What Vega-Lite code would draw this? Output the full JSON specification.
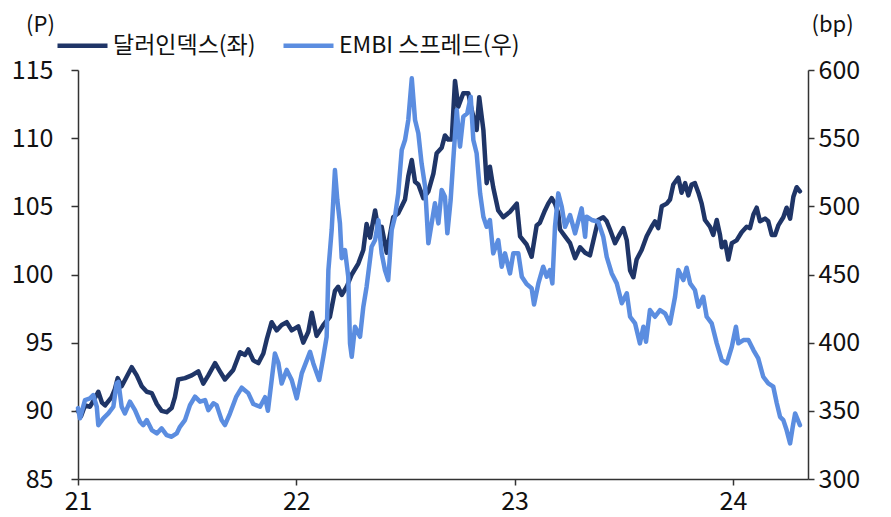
{
"$schema": "https://vega.github.io/schema/vega-lite/v6.json",
"width": 730, "height": 409,
"autosize": "none",
"padding": {"left": 78, "top": 70, "right": 83, "bottom": 38},
"background": "white",
"config": {"view": {"stroke": null}, "font": "Noto Sans CJK KR",
  "axis": {"grid": false, "domainColor": "#333", "domainWidth": 1.5, "tickColor": "#333", "tickWidth": 1.5, "labelColor": "#111", "labelFontSize": 25, "labelFont": "Noto Sans CJK KR", "titleFont": "Noto Sans CJK KR", "titleFontSize": 22, "titleFontWeight": "normal", "titleColor": "#111"}},
"datasets": {
"dxy": [{"t":21.000,"v":90.0},{"t":21.014,"v":89.6},{"t":21.032,"v":90.4},{"t":21.055,"v":90.3},{"t":21.073,"v":90.8},{"t":21.093,"v":91.4},{"t":21.110,"v":90.6},{"t":21.124,"v":90.4},{"t":21.154,"v":91.0},{"t":21.169,"v":91.6},{"t":21.182,"v":92.4},{"t":21.200,"v":91.8},{"t":21.223,"v":92.5},{"t":21.246,"v":93.2},{"t":21.269,"v":92.6},{"t":21.292,"v":91.8},{"t":21.315,"v":91.4},{"t":21.338,"v":91.3},{"t":21.361,"v":90.5},{"t":21.383,"v":90.0},{"t":21.406,"v":89.9},{"t":21.429,"v":90.2},{"t":21.444,"v":91.0},{"t":21.459,"v":92.3},{"t":21.490,"v":92.4},{"t":21.521,"v":92.6},{"t":21.551,"v":92.9},{"t":21.574,"v":92.0},{"t":21.597,"v":92.6},{"t":21.628,"v":93.5},{"t":21.650,"v":92.9},{"t":21.673,"v":92.3},{"t":21.711,"v":93.0},{"t":21.742,"v":94.3},{"t":21.765,"v":94.1},{"t":21.780,"v":94.5},{"t":21.803,"v":93.7},{"t":21.826,"v":93.5},{"t":21.849,"v":94.2},{"t":21.864,"v":95.2},{"t":21.887,"v":96.5},{"t":21.910,"v":95.9},{"t":21.933,"v":96.3},{"t":21.956,"v":96.5},{"t":21.979,"v":95.9},{"t":22.009,"v":96.2},{"t":22.032,"v":95.0},{"t":22.055,"v":95.8},{"t":22.071,"v":97.2},{"t":22.093,"v":95.5},{"t":22.124,"v":96.3},{"t":22.154,"v":96.9},{"t":22.177,"v":98.8},{"t":22.192,"v":99.1},{"t":22.208,"v":98.5},{"t":22.231,"v":99.1},{"t":22.254,"v":100.0},{"t":22.284,"v":100.8},{"t":22.307,"v":101.8},{"t":22.322,"v":103.7},{"t":22.338,"v":102.7},{"t":22.361,"v":104.7},{"t":22.376,"v":103.3},{"t":22.391,"v":103.5},{"t":22.414,"v":101.6},{"t":22.444,"v":104.2},{"t":22.467,"v":104.5},{"t":22.483,"v":105.0},{"t":22.498,"v":105.5},{"t":22.513,"v":107.2},{"t":22.529,"v":108.4},{"t":22.544,"v":106.8},{"t":22.559,"v":106.6},{"t":22.582,"v":105.6},{"t":22.605,"v":106.1},{"t":22.628,"v":107.4},{"t":22.643,"v":108.9},{"t":22.666,"v":109.3},{"t":22.681,"v":110.2},{"t":22.696,"v":109.9},{"t":22.712,"v":109.9},{"t":22.727,"v":114.2},{"t":22.742,"v":112.3},{"t":22.765,"v":113.3},{"t":22.788,"v":113.3},{"t":22.803,"v":112.1},{"t":22.826,"v":110.6},{"t":22.838,"v":113.0},{"t":22.857,"v":110.6},{"t":22.872,"v":106.7},{"t":22.887,"v":107.9},{"t":22.902,"v":106.4},{"t":22.925,"v":104.7},{"t":22.948,"v":104.2},{"t":22.979,"v":104.6},{"t":23.010,"v":105.2},{"t":23.025,"v":102.8},{"t":23.055,"v":102.2},{"t":23.078,"v":101.3},{"t":23.101,"v":103.6},{"t":23.116,"v":103.8},{"t":23.139,"v":104.7},{"t":23.154,"v":105.2},{"t":23.170,"v":105.6},{"t":23.185,"v":105.2},{"t":23.200,"v":104.5},{"t":23.208,"v":103.3},{"t":23.231,"v":102.8},{"t":23.254,"v":102.3},{"t":23.277,"v":101.2},{"t":23.300,"v":102.0},{"t":23.323,"v":101.6},{"t":23.345,"v":101.4},{"t":23.361,"v":102.5},{"t":23.383,"v":104.0},{"t":23.406,"v":104.2},{"t":23.422,"v":103.9},{"t":23.437,"v":103.3},{"t":23.460,"v":102.3},{"t":23.483,"v":103.0},{"t":23.498,"v":103.4},{"t":23.514,"v":102.5},{"t":23.529,"v":100.3},{"t":23.544,"v":99.8},{"t":23.559,"v":101.1},{"t":23.582,"v":101.8},{"t":23.605,"v":102.8},{"t":23.628,"v":103.5},{"t":23.643,"v":103.9},{"t":23.658,"v":103.4},{"t":23.674,"v":105.0},{"t":23.697,"v":105.2},{"t":23.712,"v":105.5},{"t":23.727,"v":106.6},{"t":23.750,"v":107.1},{"t":23.765,"v":106.0},{"t":23.781,"v":106.7},{"t":23.796,"v":105.8},{"t":23.811,"v":106.6},{"t":23.826,"v":106.7},{"t":23.842,"v":106.0},{"t":23.857,"v":105.2},{"t":23.872,"v":104.0},{"t":23.895,"v":103.5},{"t":23.910,"v":102.9},{"t":23.926,"v":104.0},{"t":23.941,"v":102.9},{"t":23.949,"v":102.0},{"t":23.964,"v":102.4},{"t":23.979,"v":101.1},{"t":23.995,"v":102.3},{"t":24.017,"v":102.5},{"t":24.040,"v":103.1},{"t":24.063,"v":103.5},{"t":24.078,"v":103.4},{"t":24.094,"v":104.4},{"t":24.109,"v":104.9},{"t":24.124,"v":103.9},{"t":24.147,"v":104.1},{"t":24.162,"v":103.9},{"t":24.178,"v":102.9},{"t":24.193,"v":102.9},{"t":24.208,"v":103.6},{"t":24.231,"v":104.2},{"t":24.246,"v":104.9},{"t":24.262,"v":104.1},{"t":24.277,"v":105.7},{"t":24.292,"v":106.4},{"t":24.307,"v":106.1}],
"embi": [{"t":21.000,"v":352},{"t":21.009,"v":344.5},{"t":21.032,"v":357.9},{"t":21.055,"v":359.1},{"t":21.070,"v":361.6},{"t":21.086,"v":353.0},{"t":21.093,"v":339.5},{"t":21.116,"v":344.5},{"t":21.139,"v":348.1},{"t":21.162,"v":353.0},{"t":21.177,"v":370.1},{"t":21.185,"v":371.3},{"t":21.200,"v":353.0},{"t":21.215,"v":348.1},{"t":21.238,"v":356.7},{"t":21.261,"v":350.5},{"t":21.284,"v":342.0},{"t":21.299,"v":339.5},{"t":21.315,"v":343.2},{"t":21.338,"v":335.9},{"t":21.361,"v":333.4},{"t":21.383,"v":337.1},{"t":21.406,"v":332.2},{"t":21.429,"v":331.0},{"t":21.452,"v":333.4},{"t":21.467,"v":338.3},{"t":21.490,"v":343.2},{"t":21.513,"v":354.2},{"t":21.536,"v":360.4},{"t":21.559,"v":356.7},{"t":21.582,"v":357.9},{"t":21.597,"v":350.5},{"t":21.620,"v":355.5},{"t":21.635,"v":354.2},{"t":21.658,"v":343.2},{"t":21.673,"v":339.5},{"t":21.696,"v":348},{"t":21.724,"v":360},{"t":21.750,"v":367},{"t":21.780,"v":363},{"t":21.803,"v":355},{"t":21.834,"v":353},{"t":21.857,"v":360},{"t":21.870,"v":350},{"t":21.889,"v":375},{"t":21.902,"v":392},{"t":21.918,"v":385},{"t":21.933,"v":370},{"t":21.956,"v":380},{"t":21.979,"v":372.6},{"t":22.002,"v":359.1},{"t":22.025,"v":377.5},{"t":22.048,"v":387},{"t":22.063,"v":393.3},{"t":22.078,"v":384.8},{"t":22.105,"v":372.6},{"t":22.124,"v":389.7},{"t":22.139,"v":404.3},{"t":22.147,"v":453.3},{"t":22.162,"v":482.6},{"t":22.177,"v":526.6},{"t":22.188,"v":504.6},{"t":22.200,"v":487.5},{"t":22.208,"v":462},{"t":22.223,"v":467.9},{"t":22.238,"v":448.4},{"t":22.246,"v":399.5},{"t":22.254,"v":389.7},{"t":22.269,"v":411.7},{"t":22.292,"v":404.3},{"t":22.307,"v":426.3},{"t":22.322,"v":441.0},{"t":22.345,"v":470.4},{"t":22.361,"v":475.3},{"t":22.376,"v":489.9},{"t":22.391,"v":465.5},{"t":22.406,"v":453.3},{"t":22.421,"v":445.9},{"t":22.437,"v":482.6},{"t":22.452,"v":492.4},{"t":22.467,"v":509.5},{"t":22.483,"v":541.3},{"t":22.498,"v":548.6},{"t":22.513,"v":563.3},{"t":22.529,"v":593.9},{"t":22.544,"v":563.3},{"t":22.559,"v":553.6},{"t":22.574,"v":531.5},{"t":22.590,"v":514.4},{"t":22.605,"v":472.9},{"t":22.620,"v":487.5},{"t":22.635,"v":502.2},{"t":22.651,"v":487.5},{"t":22.666,"v":512.0},{"t":22.681,"v":507.0},{"t":22.692,"v":480.2},{"t":22.707,"v":504.6},{"t":22.719,"v":534.0},{"t":22.735,"v":570.7},{"t":22.750,"v":543.8},{"t":22.765,"v":565.8},{"t":22.783,"v":568.2},{"t":22.799,"v":580.4},{"t":22.811,"v":548.6},{"t":22.826,"v":538.9},{"t":22.842,"v":509.5},{"t":22.857,"v":492.4},{"t":22.872,"v":485.0},{"t":22.887,"v":489.9},{"t":22.902,"v":465.5},{"t":22.925,"v":475.3},{"t":22.941,"v":455.7},{"t":22.956,"v":465.5},{"t":22.979,"v":450.8},{"t":22.994,"v":465.5},{"t":23.017,"v":465.5},{"t":23.033,"v":448.4},{"t":23.055,"v":443},{"t":23.078,"v":440},{"t":23.089,"v":428},{"t":23.109,"v":443.5},{"t":23.131,"v":455.7},{"t":23.147,"v":448.4},{"t":23.162,"v":453.3},{"t":23.173,"v":443.5},{"t":23.185,"v":485.0},{"t":23.200,"v":509.5},{"t":23.216,"v":499.7},{"t":23.231,"v":485.0},{"t":23.254,"v":493.6},{"t":23.277,"v":480.2},{"t":23.307,"v":498.5},{"t":23.323,"v":477.7},{"t":23.330,"v":492.4},{"t":23.353,"v":490.0},{"t":23.383,"v":488.7},{"t":23.406,"v":477.7},{"t":23.422,"v":463.0},{"t":23.445,"v":450.8},{"t":23.468,"v":443.5},{"t":23.491,"v":428.9},{"t":23.514,"v":436.2},{"t":23.529,"v":419.0},{"t":23.552,"v":414.1},{"t":23.574,"v":399.5},{"t":23.590,"v":411.7},{"t":23.602,"v":400.7},{"t":23.620,"v":423.9},{"t":23.643,"v":419.0},{"t":23.666,"v":423.9},{"t":23.689,"v":421.5},{"t":23.712,"v":414.1},{"t":23.735,"v":433.7},{"t":23.750,"v":453.3},{"t":23.773,"v":445.9},{"t":23.788,"v":455},{"t":23.804,"v":443.5},{"t":23.826,"v":438.6},{"t":23.842,"v":426.3},{"t":23.864,"v":433.7},{"t":23.880,"v":419.0},{"t":23.903,"v":414.1},{"t":23.926,"v":399.5},{"t":23.949,"v":387.2},{"t":23.972,"v":384.8},{"t":23.995,"v":397.0},{"t":24.014,"v":411.7},{"t":24.025,"v":399.5},{"t":24.048,"v":401.9},{"t":24.071,"v":401.9},{"t":24.094,"v":394.6},{"t":24.116,"v":388.5},{"t":24.139,"v":375.0},{"t":24.162,"v":370.1},{"t":24.185,"v":367.7},{"t":24.201,"v":355.5},{"t":24.216,"v":345.6},{"t":24.231,"v":343.2},{"t":24.246,"v":335.9},{"t":24.262,"v":326.1},{"t":24.274,"v":338.3},{"t":24.285,"v":348.1},{"t":24.307,"v":339.5}]
},
"encoding": {
  "x": {"field": "t", "type": "quantitative", "scale": {"domain": [21, 24.344], "nice": false, "zero": false},
    "axis": {"values": [21, 22, 23, 24], "format": "d", "title": null, "tickSize": 6, "labelPadding": 4, "labelFlush": false}}
},
"layer": [
  {"data": {"name": "dxy"},
   "mark": {"type": "line", "strokeWidth": 4.5, "strokeJoin": "round", "strokeCap": "round"},
   "encoding": {
     "y": {"field": "v", "type": "quantitative", "scale": {"domain": [85, 115], "nice": false, "zero": false},
       "axis": {"orient": "left", "values": [85, 90, 95, 100, 105, 110, 115], "tickSize": 7, "labelPadding": 18, "title": "(P)", "titleAngle": 0, "titleX": -38, "titleY": -46, "titleAlign": "center", "titleBaseline": "middle"}},
     "color": {"datum": "달러인덱스(좌)", "type": "nominal",
       "scale": {"domain": ["달러인덱스(좌)", "EMBI 스프레드(우)"], "range": ["#1f3567", "#5b8de0"]},
       "legend": {"orient": "none", "legendX": -23, "legendY": -52, "direction": "horizontal", "title": null,
         "symbolType": "stroke", "symbolSize": 2500, "symbolStrokeWidth": 4.5, "labelFontSize": 23, "labelFont": "Noto Sans CJK KR", "labelColor": "#111", "labelOffset": 3, "columnPadding": 18, "labelLimit": 400}}
   }},
  {"data": {"name": "embi"},
   "mark": {"type": "line", "strokeWidth": 4.5, "strokeJoin": "round", "strokeCap": "round"},
   "encoding": {
     "y": {"field": "v", "type": "quantitative", "scale": {"domain": [300, 600], "nice": false, "zero": false},
       "axis": {"orient": "right", "values": [300, 350, 400, 450, 500, 550, 600], "tickSize": 6, "labelPadding": 4, "title": "(bp)", "titleAngle": 0, "titleX": 24, "titleY": -46, "titleAlign": "center", "titleBaseline": "middle"}},
     "color": {"datum": "EMBI 스프레드(우)", "type": "nominal"}
   }}
],
"resolve": {"scale": {"y": "independent"}}
}
